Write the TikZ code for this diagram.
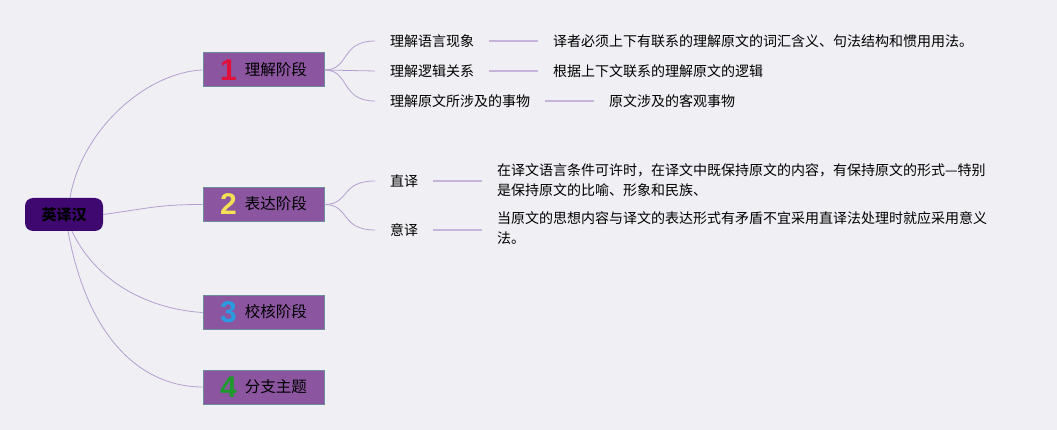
\documentclass[tikz,border=0pt]{standalone}
\usepackage{fontspec}
\setmainfont{Noto Sans CJK SC}
\newfontfamily\numfont{Liberation Sans}
\definecolor{bgc}{HTML}{F0EFF4}
\definecolor{linkc}{HTML}{B3A0D0}
\definecolor{barc}{HTML}{C6B4DA}
\definecolor{boxc}{HTML}{8B55A0}
\definecolor{boxb}{HTML}{6C8C9E}
\definecolor{rootc}{HTML}{3E0870}
\definecolor{nred}{HTML}{E0103A}
\definecolor{nyellow}{HTML}{F2E055}
\definecolor{nblue}{HTML}{2A9BE0}
\definecolor{ngreen}{HTML}{1E9A2C}
\newcommand{\stagetext}[3]{{\numfont\bfseries\fontsize{30}{30}\selectfont\color{#1}#2}\hspace{8pt}\raisebox{5pt}{#3}}
\tikzset{
  link/.style={draw=linkc, line width=0.8pt},
  bar/.style={draw=barc, line width=1.6pt},
  stage/.style={draw=boxb, line width=1pt, fill=boxc, minimum width=121pt, minimum height=34pt, inner sep=0pt, font=\fontsize{15.5}{18}\selectfont},
  rootbox/.style={fill=rootc, rounded corners=8pt, minimum width=78pt, minimum height=33pt, inner sep=0pt, font=\bfseries\fontsize{15}{18}\selectfont},
  lab/.style={anchor=west, inner xsep=15pt, inner ysep=2pt, font=\fontsize{14}{20}\selectfont},
  det/.style={anchor=west, inner xsep=15pt, inner ysep=2pt, align=left, font=\fontsize{14}{20}\selectfont}
}
\begin{document}
\begin{tikzpicture}[x=1pt,y=-1pt]
\fill[bgc] (0,0) rectangle (1057,430);
\useasboundingbox (0,0) rectangle (1057,430);

\node[rootbox] (root) at (64,214.5) {英译汉};
\node[stage] (s1) at (263.5,70) {\stagetext{nred}{1}{理解阶段}};
\node[stage] (s2) at (263.5,204.5) {\stagetext{nyellow}{2}{表达阶段}};
\node[stage] (s3) at (263.5,312.5) {\stagetext{nblue}{3}{校核阶段}};
\node[stage] (s4) at (263.5,387) {\stagetext{ngreen}{4}{分支主题}};

\draw[link] ([xshift=6pt]root.north) .. controls (82,128) and (148,72) .. (s1.west);
\draw[link] (root.east) .. controls (150,208) and (160,204.5) .. (s2.west);
\draw[link] ([xshift=8pt]root.south) .. controls (100,290) and (160,310) .. (s3.west);
\draw[link] ([xshift=4pt]root.south) .. controls (90,350) and (150,387) .. (s4.west);

\node[lab] (a1) at (375,41) {理解语言现象};
\node[lab] (a2) at (375,71) {理解逻辑关系};
\node[lab] (a3) at (375,101) {理解原文所涉及的事物};
\node[det] (d1) at (538,41) {译者必须上下有联系的理解原文的词汇含义、句法结构和惯用用法。};
\node[det] (d2) at (538,71) {根据上下文联系的理解原文的逻辑};
\node[det] (d3) at (594,101) {原文涉及的客观事物};

\draw[link] (s1.east) .. controls (350,70) and (340,41) .. (a1.west);
\draw[link] (s1.east) -- (a2.west);
\draw[link] (s1.east) .. controls (350,70) and (340,101) .. (a3.west);
\draw[bar] (a1.east) -- (d1.west);
\draw[bar] (a2.east) -- (d2.west);
\draw[bar] (a3.east) -- (d3.west);

\node[lab] (a4) at (375,181) {直译};
\node[lab] (a5) at (375,230) {意译};
\node[det, anchor=north west] (d4) at (482,161) {在译文语言条件可许时，在译文中既保持原文的内容，有保持原文的形式—特别\\是保持原文的比喻、形象和民族、};
\node[det, anchor=north west] (d5) at (482,209) {当原文的思想内容与译文的表达形式有矛盾不宜采用直译法处理时就应采用意义\\法。};

\draw[link] (s2.east) .. controls (350,204.5) and (340,181) .. (a4.west);
\draw[link] (s2.east) .. controls (350,204.5) and (340,230) .. (a5.west);
\draw[bar] (a4.east) -- (a4.east -| d4.west);
\draw[bar] (a5.east) -- (a5.east -| d5.west);
\end{tikzpicture}
\end{document}
